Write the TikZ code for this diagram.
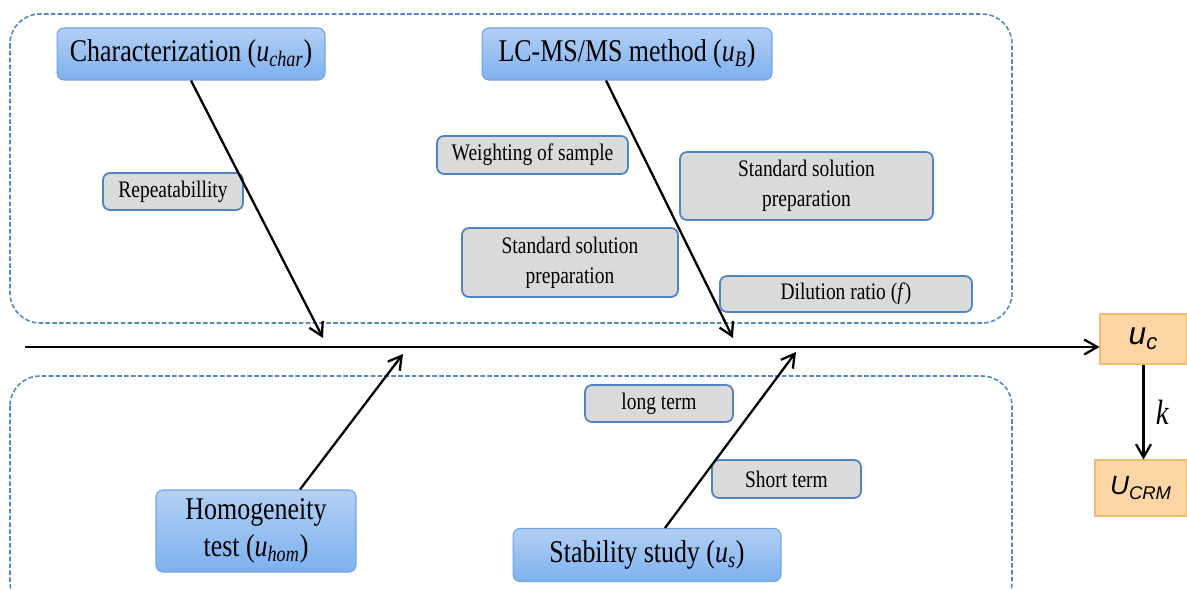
\documentclass[tikz,border=0pt]{standalone}
\usepackage{fontspec}
\setmainfont{Liberation Serif}[FakeStretch=0.82]
\newfontfamily\ucfont{Liberation Sans}
\usepackage{xcolor}
\usepackage{tikz}
\usetikzlibrary{arrows.meta,positioning}
\definecolor{headtop}{HTML}{B3CFF4}
\definecolor{headbot}{HTML}{7DB1EF}
\definecolor{headline}{HTML}{72A4E2}
\definecolor{causefill}{HTML}{DADADA}
\definecolor{causeline}{HTML}{4F82C0}
\definecolor{resfill}{HTML}{FCD5A4}
\definecolor{resline}{HTML}{F6BA70}
\definecolor{framecol}{HTML}{4F89C6}
\newcommand{\usub}[1]{\textit{u}\textsubscript{\textit{#1}}}

\begin{document}
\begin{tikzpicture}[x=0.02cm,y=-0.02cm,>={Straight Barb[length=2.6mm,width=3mm]},
  head/.style={rectangle,draw=headline,line width=0.6pt,rounded corners=4pt,top color=headtop,bottom color=headbot,align=center,inner sep=2pt,font=\fontsize{18}{21}\selectfont},
  cause/.style={rectangle,draw=causeline,line width=1pt,rounded corners=4pt,fill=causefill,align=center,inner sep=2pt,font=\fontsize{13.5}{17}\selectfont},
  result/.style={rectangle,draw=resline,line width=0.6pt,fill=resfill,font=\ucfont\itshape\fontsize{15}{18}\selectfont},
  frame/.style={draw=framecol,dash pattern=on 2.6pt off 1.3pt,line width=0.9pt,rounded corners=0.6cm},
  bone/.style={->,line width=1.3pt}]
\useasboundingbox (0,0) rectangle (1187,590);
\draw[frame] (10,14) rectangle (1012,323);
\draw[frame] (10,376) rectangle (1012,612);

\node[head,minimum width=5.36cm,minimum height=1.04cm] (char) at (191,54) {Characterization (\usub{char})};
\node[head,minimum width=5.8cm,minimum height=1.04cm] (lcms) at (627,54) {LC-MS/MS method (\usub{B})};
\node[head,minimum width=4cm,minimum height=1.64cm] (hom) at (256,531) {Homogeneity\\test (\usub{hom})};
\node[head,minimum width=5.36cm,minimum height=1.06cm] (stab) at (647,555) {Stability study (\usub{s})};

\node[cause,minimum width=2.8cm,minimum height=0.74cm] (rep) at (173,191.5) {Repeatabillity};
\node[cause,minimum width=3.82cm,minimum height=0.76cm] (weigh) at (532.5,155) {Weighting of sample};
\node[cause,minimum width=5.06cm,minimum height=1.36cm] (stdA) at (806.5,186) {Standard solution\\preparation};
\node[cause,minimum width=4.32cm,minimum height=1.38cm] (stdB) at (570,262.5) {Standard solution\\preparation};
\node[cause,minimum width=5.04cm,minimum height=0.72cm] (dil) at (846,294) {Dilution ratio (\textit{f})};
\node[cause,minimum width=2.96cm,minimum height=0.74cm] (long) at (659,403.5) {long term};
\node[cause,minimum width=2.98cm,minimum height=0.76cm] (short) at (786.5,479) {Short term};

\node[result,minimum width=1.74cm,minimum height=1cm,font=\ucfont\itshape\fontsize{18}{20}\selectfont] (uc) at (1143.5,339) {u\textsubscript{c}};
\node[result,minimum width=1.84cm,minimum height=1.12cm] (ucrm) at (1141,488) {U\textsubscript{CRM}};

\coordinate (tail) at (25,347);
\coordinate (hitChar) at (323,338);
\coordinate (hitLc) at (733,338);
\coordinate (hitHom) at (403,354);
\coordinate (hitStab) at (796,352);

\draw[bone] (tail) -- (tail -| uc.west);
\draw[bone] (char.south) -- (hitChar);
\draw[bone] ([xshift=-0.42cm]lcms.south) -- (hitLc);
\draw[bone] ([xshift=0.88cm]hom.north) -- (hitHom);
\draw[bone] ([xshift=0.36cm]stab.north) -- (hitStab);
\draw[bone] (uc.south) -- (uc.south |- ucrm.north) node[midway,right=3pt,font=\fontsize{20}{22}\selectfont] {\textit{k}};
\end{tikzpicture}
\end{document}
